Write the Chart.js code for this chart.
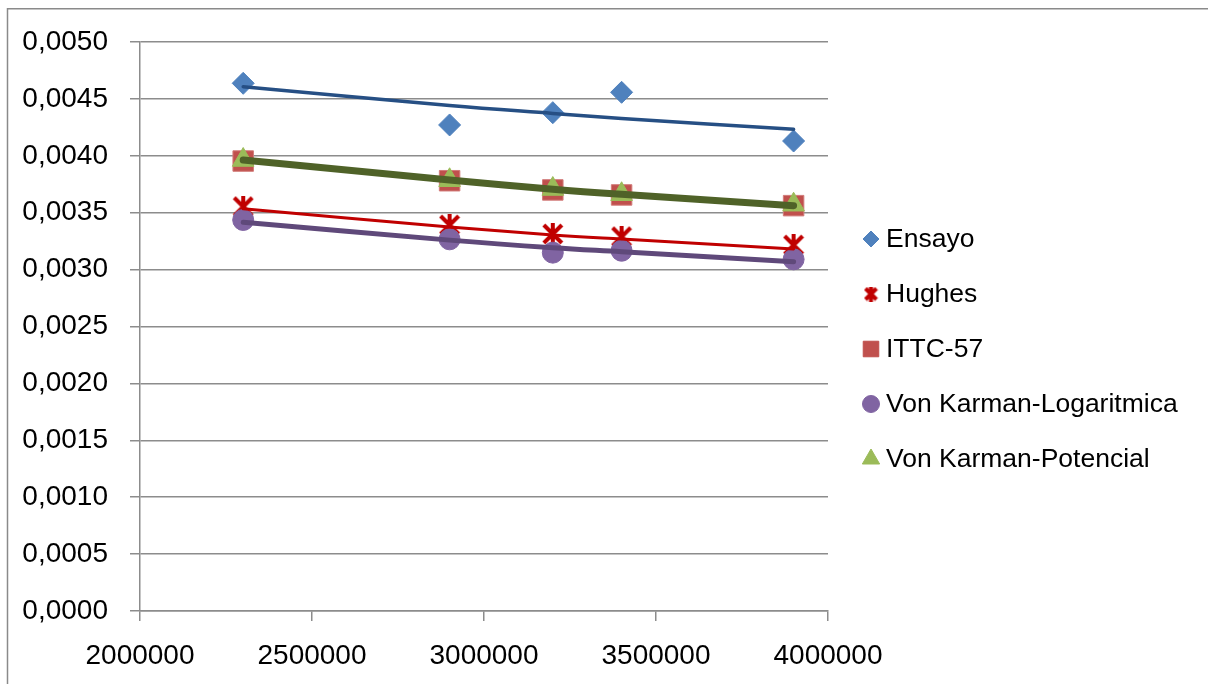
<!DOCTYPE html>
<html>
<head>
<meta charset="utf-8">
<title>Coeficiente de friccion</title>
<script src="https://cdn.jsdelivr.net/npm/chart.js@4.4.1/dist/chart.umd.min.js"></script>
<style>
  html, body { margin: 0; padding: 0; background: #fff; }
  #wrap { position: relative; width: 1208px; height: 684px; }
</style>
</head>
<body>
<div id="wrap"><canvas id="chart" width="1208" height="684"></canvas></div>
<script>
// Reynolds numbers of the runs
const reynolds = [2300000, 2900000, 3200000, 3400000, 3900000];

// friction coefficient per method
const ensayo    = [0.004637, 0.004271, 0.004379, 0.004558, 0.004130];
const hughes    = [0.003553, 0.003392, 0.003313, 0.003289, 0.003216];
const ittc57    = [0.003954, 0.003781, 0.003700, 0.003656, 0.003562];
const vkLog     = [0.003436, 0.003266, 0.003149, 0.003166, 0.003090];
const vkPot     = [0.003963, 0.003785, 0.003708, 0.003662, 0.003570];

// power trendlines, values at the same Reynolds numbers
const trendEnsayo = [0.004607, 0.004442, 0.004372, 0.004328, 0.004233];
const trendHughes = [0.003534, 0.003375, 0.003305, 0.003268, 0.003181];
const trendVkLog  = [0.003416, 0.003259, 0.003192, 0.003157, 0.003069];
const trendVkPot  = [0.003963, 0.003788, 0.003707, 0.003662, 0.003562];

const yTicks = { min: 0, max: 0.005, step: 0.0005 };
const xTicks = { min: 2000000, max: 4000000, step: 500000 };

const FONT = '"Liberation Sans", Arial, sans-serif';

function pts(ys) {
    return reynolds.map((x, i) => ({ x: x, y: ys[i] }));
}

// asterisk marker: an X with a vertical stroke through it
function asterisk(size, lw) {
    const c = document.createElement('canvas');
    c.width = size;
    c.height = size;
    const g = c.getContext('2d');
    const m = lw / 2;
    g.strokeStyle = '#C00000';
    g.lineWidth = lw;
    g.lineCap = 'butt';
    g.beginPath();
    g.moveTo(m, m);
    g.lineTo(size - m, size - m);
    g.moveTo(size - m, m);
    g.lineTo(m, size - m);
    g.moveTo(size / 2, 0);
    g.lineTo(size / 2, size);
    g.stroke();
    return c;
}

const starBig = asterisk(22, 4);
const starSmall = asterisk(15, 4);

function trend(ys, color, width) {
    return {
        type: 'line',
        data: pts(ys),
        borderColor: color,
        borderWidth: width,
        borderCapStyle: 'round',
        pointRadius: 0,
        tension: 0.4,
        fill: false,
        order: 0
    };
}

const series = [
    { label: 'Ensayo', data: pts(ensayo), pointStyle: 'rectRot', pointRadius: 11,
      backgroundColor: '#4F81BD', borderColor: '#4F81BD', order: 5 },
    { label: 'Hughes', data: pts(hughes), pointStyle: starBig, pointRadius: 11,
      backgroundColor: '#C00000', borderColor: '#C00000', order: 4 },
    { label: 'ITTC-57', data: pts(ittc57), pointStyle: 'rect', pointRadius: 14.5,
      backgroundColor: '#C0504D', borderColor: '#D27C7A', order: 3 },
    { label: 'Von Karman-Logaritmica', data: pts(vkLog), pointStyle: 'circle', pointRadius: 10.5,
      backgroundColor: '#8064A2', borderColor: '#8064A2', order: 2 },
    { label: 'Von Karman-Potencial', data: pts(vkPot), pointStyle: 'triangle', pointRadius: 12.5,
      backgroundColor: '#9BBB59', borderColor: '#9BBB59', order: 1 }
];
series.forEach(s => { s.borderWidth = 1; s.showLine = false; s.pointHoverRadius = s.pointRadius; });

// legend markers, smaller than the plotted ones
const legendItems = [
    { label: 'Ensayo', style: 'rectRot', r: 8, fill: '#4F81BD' },
    { label: 'Hughes', style: starSmall, r: 8, fill: '#C00000' },
    { label: 'ITTC-57', style: 'rect', r: 11, fill: '#C0504D' },
    { label: 'Von Karman-Logaritmica', style: 'circle', r: 8.5, fill: '#8064A2' },
    { label: 'Von Karman-Potencial', style: 'triangle', r: 10, fill: '#9BBB59' }
];

const sideLegend = {
    id: 'sideLegend',
    afterDraw(chart) {
        const ctx = chart.ctx;
        ctx.save();
        ctx.font = '26.5px ' + FONT;
        ctx.textBaseline = 'middle';
        legendItems.forEach((it, i) => {
            const y = 239 + i * 55;
            ctx.fillStyle = it.fill;
            ctx.strokeStyle = it.fill;
            ctx.lineWidth = 1;
            Chart.helpers.drawPoint(ctx, { pointStyle: it.style, radius: it.r, rotation: 0, borderWidth: 1 }, 871, y);
            ctx.fillStyle = '#000';
            ctx.fillText(it.label, 886, y + 1);
        });
        ctx.restore();
    }
};

// thin frame around the chart, only its top and left edges are in view
const frame = {
    id: 'frame',
    beforeDraw(chart) {
        const ctx = chart.ctx;
        ctx.save();
        ctx.strokeStyle = '#8A8A8A';
        ctx.lineWidth = 1.5;
        ctx.beginPath();
        ctx.moveTo(7.5, 684);
        ctx.lineTo(7.5, 8.75);
        ctx.lineTo(1208, 8.75);
        ctx.stroke();
        ctx.restore();
    }
};

new Chart(document.getElementById('chart'), {
    type: 'scatter',
    data: {
        datasets: [
            trend(trendEnsayo, '#264F84', 3.5),
            trend(trendHughes, '#C00000', 3),
            trend(trendVkPot, '#4F6228', 7),
            trend(trendVkLog, '#5F497A', 5)
        ].concat(series)
    },
    options: {
        responsive: false,
        animation: false,
        devicePixelRatio: 1,
        layout: { padding: { left: 0, top: 42, right: 380, bottom: 0 } },
        plugins: {
            legend: { display: false },
            tooltip: { enabled: false }
        },
        scales: {
            x: {
                type: 'linear',
                min: xTicks.min,
                max: xTicks.max,
                afterFit(scale) { scale.height = 73; },
                ticks: {
                    stepSize: xTicks.step,
                    color: '#000',
                    padding: 18,
                    maxRotation: 0,
                    font: { family: FONT, size: 28 },
                    callback: v => String(v)
                },
                grid: {
                    drawOnChartArea: false,
                    drawTicks: true,
                    tickLength: 10,
                    color: '#8C8C8C',
                    lineWidth: 1.5
                },
                border: { display: true, color: '#8C8C8C', width: 1.5 }
            },
            y: {
                type: 'linear',
                min: yTicks.min,
                max: yTicks.max,
                afterFit(scale) { scale.width = 140; },
                ticks: {
                    stepSize: yTicks.step,
                    color: '#000',
                    padding: 22,
                    font: { family: FONT, size: 28 },
                    callback: v => v.toFixed(4).replace('.', ',')
                },
                grid: {
                    drawOnChartArea: true,
                    drawTicks: true,
                    tickLength: 10,
                    color: '#8C8C8C',
                    lineWidth: 1.5
                },
                border: { display: true, color: '#8C8C8C', width: 1.5 }
            }
        }
    },
    plugins: [frame, sideLegend]
});
</script>
</body>
</html>
